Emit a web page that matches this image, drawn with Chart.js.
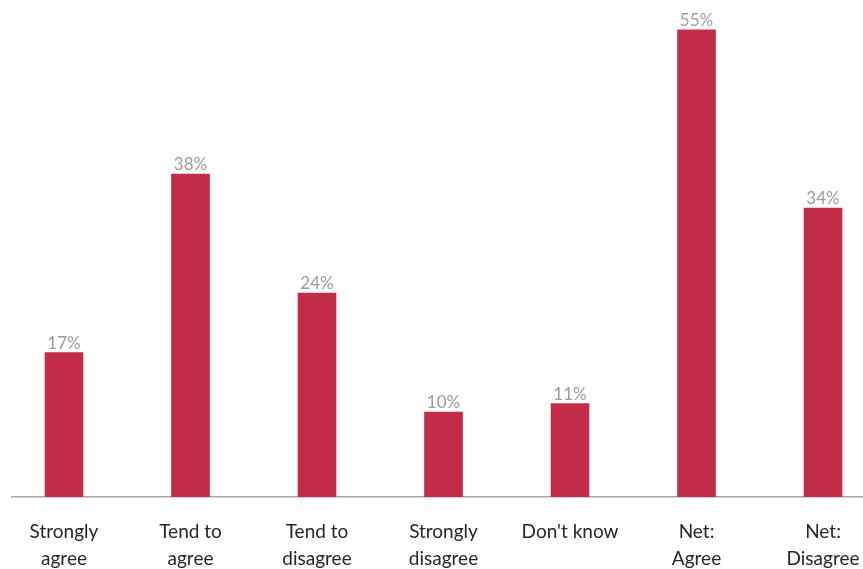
<!DOCTYPE html>
<html>
<head>
<meta charset="utf-8">
<script src="https://cdn.jsdelivr.net/npm/chart.js@4/dist/chart.umd.min.js"></script>
<style>
  html, body { margin: 0; padding: 0; background: #fff; }
  #wrap { width: 863px; height: 569px; }
</style>
</head>
<body>
<div id="wrap"><canvas id="myChart"></canvas></div>
<script>
const categories = [
  ['Strongly', 'agree'],
  ['Tend to', 'agree'],
  ['Tend to', 'disagree'],
  ['Strongly', 'disagree'],
  ["Don't know"],
  ['Net:', 'Agree'],
  ['Net:', 'Disagree']
];
const percentages = [17, 38, 24, 10, 11, 55, 34];

const barColor = '#C42D4A';

// labels "17%" etc above each bar
const valueLabels = {
  id: 'valueLabels',
  afterDatasetsDraw(chart) {
    const ctx = chart.ctx;
    const meta = chart.getDatasetMeta(0);
    ctx.save();
    ctx.font = '17px Lato';
    ctx.fillStyle = '#9b9b9b';
    ctx.textAlign = 'center';
    ctx.textBaseline = 'bottom';
    meta.data.forEach((bar, i) => {
      ctx.fillText(percentages[i] + '%', bar.x, bar.y - 1);
    });
    ctx.restore();
  }
};

const ctx = document.getElementById('myChart').getContext('2d');
const myChart = new Chart(ctx, {
  type: 'bar',
  data: {
    datasets: [{
      data: percentages.map((v, i) => ({ x: i, y: v })),
      backgroundColor: barColor,
      barThickness: 38,
      borderWidth: 0
    }]
  },
  options: {
    responsive: true,
    maintainAspectRatio: false,
    animation: false,
    layout: { padding: { left: 12, right: 0, top: 0, bottom: 0 } },
    plugins: {
      legend: { display: false },
      tooltip: { enabled: false }
    },
    scales: {
      x: {
        type: 'linear',
        offset: false,
        min: -0.411,
        max: 6.316,
        grid: { display: false, drawTicks: false },
        border: { display: true, color: '#a6a6a6', width: 1.5 },
        afterBuildTicks: (axis) => {
          axis.ticks = categories.map((_, i) => ({ value: i }));
        },
        afterFit: (axis) => {
          axis.height = 72;
          // let the last label run to the edge instead of shrinking the plot
          axis.paddingLeft = 0;
          axis.paddingRight = 0;
        },
        ticks: {
          autoSkip: false,
          maxRotation: 0,
          padding: 21,
          color: '#262626',
          font: { family: 'Lato', size: 19, lineHeight: 1.42 },
          callback: (value) => categories[value]
        }
      },
      y: {
        display: false,
        min: 0,
        max: 58.5
      }
    }
  },
  plugins: [valueLabels]
});
</script>
</body>
</html>
